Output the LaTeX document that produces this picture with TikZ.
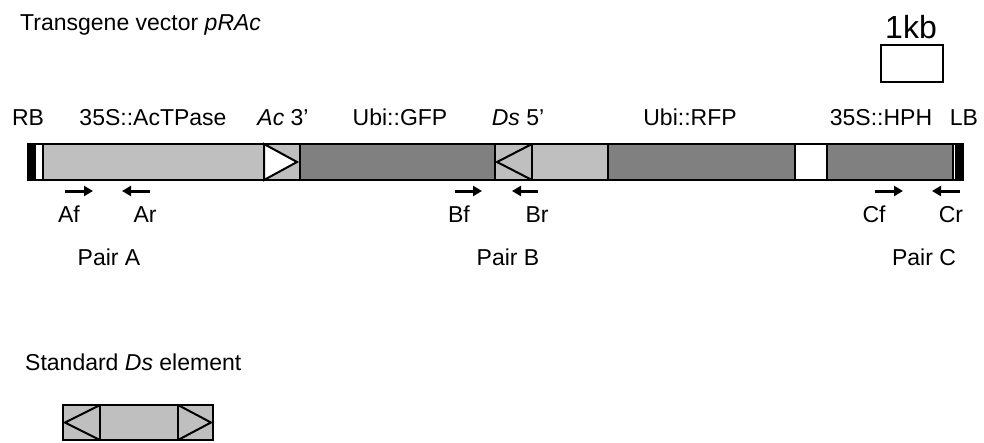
\documentclass[tikz,border=0pt]{standalone}
\usepackage{fontspec}
\setmainfont{Liberation Sans}
\usetikzlibrary{arrows.meta}
\definecolor{lightseg}{gray}{0.75}
\definecolor{darkseg}{gray}{0.5}

\begin{document}
\begin{tikzpicture}[x=1pt,y=-1pt,
  lbl/.style={anchor=base,inner sep=0pt,font=\fontsize{23}{27}\selectfont},
  seg/.style={draw=black,line width=2pt},
  primer/.style={line width=3pt,-{Triangle[length=9pt,width=10pt]}}]
\useasboundingbox (0,0) rectangle (984,442);

\node[lbl,anchor=base west] (title) at (20,30) {Transgene vector \textit{pRAc}};

% scale bar
\node[lbl,font=\fontsize{32}{36}\selectfont] (kb) at (911,38) {1kb};
\draw[seg] (881,45) rectangle (943,82);

% element names
\node[lbl] (rb) at (28,125) {RB};
\node[lbl] (actp) at (153,125) {35S::AcTPase};
\node[lbl] (ac3) at (283,125) {\textit{Ac} 3’};
\node[lbl] (gfp) at (400,125) {Ubi::GFP};
\node[lbl] (ds5) at (518,125) {\textit{Ds} 5’};
\node[lbl] (rfp) at (690,125) {Ubi::RFP};
\node[lbl] (hph) at (881,125) {35S::HPH};
\node[lbl] (lb) at (964,125) {LB};

% the vector
\filldraw[seg,fill=black] (28,144) rectangle (35,180);
\filldraw[seg,fill=white] (35,144) rectangle (43,180);
\filldraw[seg,fill=lightseg] (43,144) rectangle (264,180);
\filldraw[seg,fill=lightseg] (264,144) rectangle (300,180);
\filldraw[seg,fill=white] (264,144) -- (297,162) -- (264,180) -- cycle;
\filldraw[seg,fill=darkseg] (300,144) rectangle (495,180);
\filldraw[seg,fill=lightseg] (495,144) rectangle (532,180);
\draw[seg] (532,144) -- (497,162) -- (532,180);
\filldraw[seg,fill=lightseg] (532,144) rectangle (608,180);
\filldraw[seg,fill=darkseg] (608,144) rectangle (795,180);
\filldraw[seg,fill=white] (795,144) rectangle (827,180);
\filldraw[seg,fill=darkseg] (827,144) rectangle (953,180);
\filldraw[seg,fill=white] (953,144) rectangle (956,180);
\filldraw[seg,fill=black] (956,144) rectangle (963,180);
\draw[line width=2.4pt] (28,144) rectangle (963,180);

% primers
\draw[primer] (65,191) -- (93,191);
\draw[primer] (150,191) -- (122,191);
\draw[primer] (455,191) -- (482,191);
\draw[primer] (538,191) -- (512,191);
\draw[primer] (875,191) -- (903,191);
\draw[primer] (960,191) -- (932,191);
\node[lbl] (af) at (69,222) {Af};
\node[lbl] (ar) at (145,222) {Ar};
\node[lbl] (bf) at (459,222) {Bf};
\node[lbl] (br) at (537,222) {Br};
\node[lbl] (cf) at (874,222) {Cf};
\node[lbl] (cr) at (951,222) {Cr};
\node[lbl] (pa) at (109,265) {Pair A};
\node[lbl] (pb) at (508,265) {Pair B};
\node[lbl] (pc) at (924,265) {Pair C};

% standard Ds
\node[lbl,anchor=base west] (std) at (25,370) {Standard \textit{Ds} element};
\filldraw[seg,fill=lightseg] (63,405) rectangle (213,440);
\draw[seg] (100,405) -- (100,440) (178,405) -- (178,440);
\draw[seg] (100,405) -- (65,422.5) -- (100,440);
\draw[seg] (178,405) -- (211,422.5) -- (178,440);
\end{tikzpicture}
\end{document}
